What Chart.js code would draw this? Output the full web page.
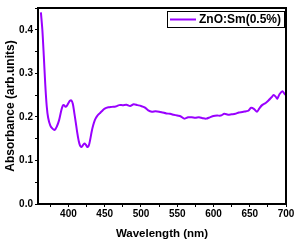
<!DOCTYPE html>
<html>
<head>
<meta charset="utf-8">
<script src="https://cdn.jsdelivr.net/npm/chart.js@4.4.1/dist/chart.umd.min.js"></script>
<style>
  html, body { margin: 0; padding: 0; background: #fff; }
  #wrap { width: 298px; height: 241px; }
</style>
</head>
<body>
<div id="wrap"><canvas id="c" width="298" height="241"></canvas></div>
<script>
const seriesLabel = "ZnO:Sm(0.5%)";
const wavelengths = [362,364,366,368,370,372,375,378,381,384,387,390,392,394,396,398,400,402,404,406,408,410,412,414,416,418,420,422,424,426,428,430,432,434,436,438,440,443,446,450,455,460,465,470,475,480,485,490,495,500,505,510,515,520,525,530,535,540,545,550,555,560,565,570,575,580,585,590,595,600,605,610,615,620,625,630,635,640,645,648,652,656,660,663,667,672,676,680,683,686,688,691,695,698,700];
const absorbance = [0.440,0.400,0.340,0.275,0.225,0.198,0.180,0.173,0.170,0.178,0.192,0.214,0.225,0.227,0.223,0.226,0.232,0.237,0.238,0.230,0.210,0.188,0.165,0.146,0.134,0.131,0.135,0.139,0.136,0.131,0.134,0.148,0.166,0.180,0.191,0.198,0.203,0.208,0.213,0.219,0.222,0.223,0.224,0.227,0.227,0.228,0.225,0.229,0.227,0.225,0.222,0.215,0.212,0.213,0.212,0.210,0.208,0.207,0.205,0.203,0.201,0.196,0.199,0.199,0.198,0.199,0.197,0.196,0.199,0.202,0.203,0.203,0.207,0.205,0.206,0.207,0.210,0.211,0.213,0.214,0.221,0.218,0.212,0.219,0.227,0.232,0.238,0.245,0.250,0.246,0.242,0.252,0.259,0.253,0.250];
const xTicks = [375,400,425,450,475,500,525,550,575,600,625,650,675,700];
const xLabelTicks = [400,450,500,550,600,650,700];
const yTicks = [0,0.05,0.1,0.15,0.2,0.25,0.3,0.35,0.4,0.45];
const yLabelTicks = [0,0.1,0.2,0.3,0.4];
const xTitle = "Wavelength (nm)";
const yTitle = "Absorbance (arb.units)";

const lineColor = '#9900ff';
const FONT = 'Arial, "Liberation Sans", sans-serif';

const framePlugin = {
  id: 'frame',
  afterDraw(chart) {
    const {ctx, chartArea: a} = chart;
    ctx.save();
    ctx.strokeStyle = '#000';
    ctx.lineWidth = 2;
    ctx.strokeRect(a.left, a.top, a.right - a.left, a.bottom - a.top);
    // legend box
    const bx = a.right - 119, by = a.top + 3, bw = 118, bh = 17;
    ctx.fillStyle = '#fff';
    ctx.fillRect(bx, by, bw, bh);
    ctx.lineWidth = 1;
    ctx.strokeStyle = '#000';
    ctx.strokeRect(bx + 0.5, by + 0.5, bw - 1, bh - 1);
    ctx.strokeStyle = lineColor;
    ctx.lineWidth = 2;
    ctx.beginPath();
    ctx.moveTo(bx + 3, by + bh / 2);
    ctx.lineTo(bx + 29, by + bh / 2);
    ctx.stroke();
    ctx.fillStyle = '#000';
    ctx.font = 'bold 12px ' + FONT;
    ctx.textBaseline = 'middle';
    ctx.textAlign = 'left';
    ctx.fillText(chart.data.datasets[0].label, bx + 32, by + bh / 2 + 0.5);
    ctx.restore();
  }
};

new Chart(document.getElementById('c'), {
  type: 'line',
  data: {
    datasets: [{
      label: seriesLabel,
      data: wavelengths.map((w, i) => ({x: w, y: absorbance[i]})),
      borderColor: lineColor,
      borderWidth: 2,
      pointRadius: 0,
      tension: 0.3,
      fill: false
    }]
  },
  options: {
    responsive: false,
    animation: false,
    layout: { padding: { top: 4, right: 12, left: 0, bottom: 0 } },
    plugins: { legend: { display: false }, tooltip: { enabled: false } },
    scales: {
      x: {
        type: 'linear',
        min: 358, max: 700,
        afterFit(s) { s.height = 37; },
        afterBuildTicks(s) { s.ticks = xTicks.map(v => ({value: v})); },
        border: { display: false },
        grid: { display: true, drawOnChartArea: false, drawTicks: true, tickLength: 3, color: '#000', lineWidth: 1 },
        ticks: {
          padding: 1, color: '#000', maxRotation: 0, autoSkip: false,
          font: { family: FONT, size: 10, weight: 'bold' },
          callback: v => xLabelTicks.includes(v) ? String(v) : ''
        },
        title: { display: true, text: xTitle, color: '#000', padding: { top: 0, bottom: 0 },
          font: { family: FONT, size: 11.5, weight: 'bold' } }
      },
      y: {
        type: 'linear',
        min: 0, max: 0.45,
        afterFit(s) { s.width = 38; },
        afterBuildTicks(s) { s.ticks = yTicks.map(v => ({value: v})); },
        border: { display: false },
        grid: { display: true, drawOnChartArea: false, drawTicks: true, tickLength: 3, color: '#000', lineWidth: 1 },
        ticks: {
          padding: 2, color: '#000', autoSkip: false,
          font: { family: FONT, size: 10, weight: 'bold' },
          callback: v => yLabelTicks.some(t => Math.abs(t - v) < 1e-9) ? v.toFixed(1) : ''
        },
        title: { display: true, text: yTitle, color: '#000', padding: { top: 3, bottom: 0 },
          font: { family: FONT, size: 12, weight: 'bold' } }
      }
    }
  },
  plugins: [framePlugin]
});
</script>
</body>
</html>
